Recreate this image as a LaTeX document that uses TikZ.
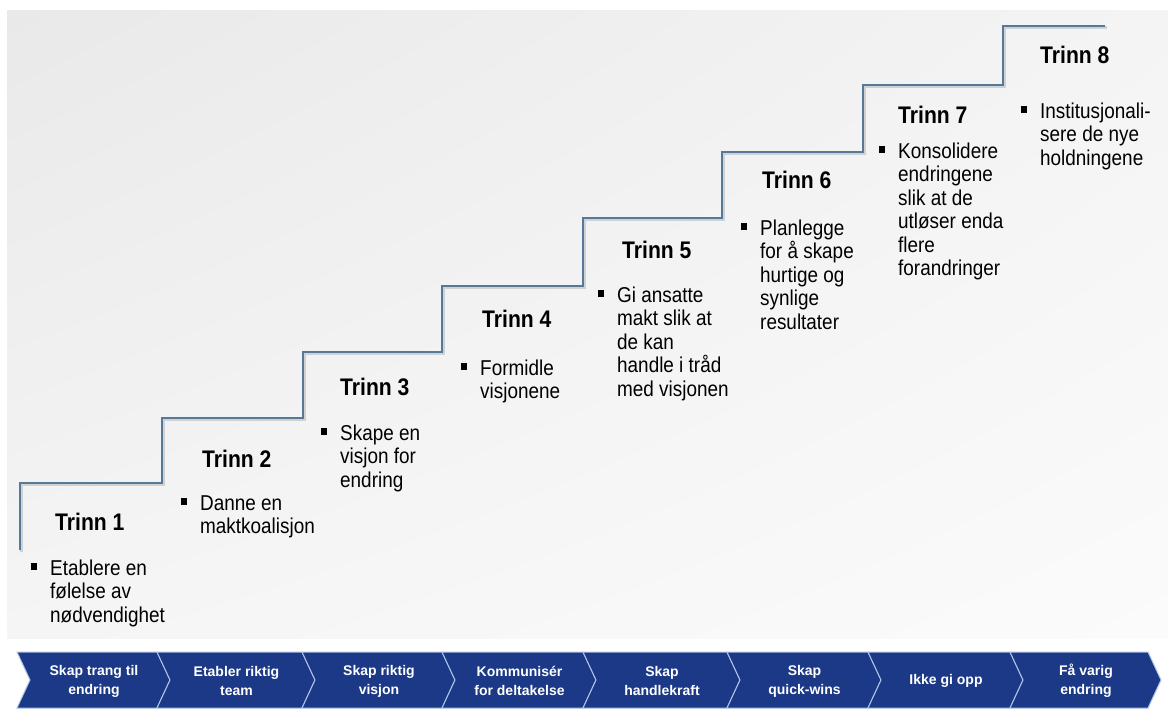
\documentclass[tikz,border=0pt]{standalone}
\usepackage{fontspec}
\setmainfont{Liberation Sans}
\newfontfamily\narrowfont{Liberation Sans}[FakeStretch=0.88]
\usetikzlibrary{calc,shadings}

\definecolor{stairline}{RGB}{88,120,152}
\definecolor{stairshadow}{RGB}{205,210,215}
\definecolor{bandblue}{RGB}{27,57,134}
\definecolor{bandedge}{RGB}{175,195,228}
\definecolor{panelUL}{RGB}{233,233,233}
\definecolor{panelUR}{RGB}{244,244,244}
\definecolor{panelLL}{RGB}{245,245,245}
\definecolor{panelLR}{RGB}{251,251,251}

\tikzset{
  heading/.style={anchor=base west, inner sep=0pt,
    font=\narrowfont\bfseries\fontsize{24}{26}\selectfont},
  bodytext/.style={anchor=base west, inner sep=0pt,
    font=\narrowfont\fontsize{21.5}{23.5}\selectfont},
  bulletsq/.style={fill=black, inner sep=0pt, minimum size=6.5pt},
  chevron/.style={fill=bandblue, draw=bandedge, line width=1pt, line join=miter},
  chevlabel/.style={text=white, align=center, inner sep=0pt,
    font=\bfseries\fontsize{14}{19}\selectfont},
  stairs/.style={draw=stairline, line width=2.2pt},
  stairsback/.style={draw=stairshadow, line width=3pt},
}

% body text: first line baseline sits on the node's base
\newcommand{\steptext}[1]{\parbox[t]{170pt}{\raggedright #1}}

\begin{document}
\begin{tikzpicture}[x=1pt, y=-1pt]
  \useasboundingbox (0,0) rectangle (1168,715);
  \fill[white] (0,0) rectangle (1168,715);

  % light grey panel behind the staircase
  \shade[upper left=panelUL, upper right=panelUR,
         lower left=panelLL, lower right=panelLR] (7,10) rectangle (1168,638);

  % staircase
  \coordinate (s0) at (20,550);
  \path[stairsback] ([shift={(1.5,1.5)}]s0) -- ++(0,-67) -- ++(142,0) -- ++(0,-65) -- ++(141,0)
     -- ++(0,-66) -- ++(139,0) -- ++(0,-66) -- ++(141,0) -- ++(0,-68) -- ++(139,0)
     -- ++(0,-66) -- ++(141,0) -- ++(0,-67) -- ++(140,0) -- ++(0,-59) -- ++(102,0);
  \path[stairs] (s0) -- ++(0,-67) -- ++(142,0) -- ++(0,-65) -- ++(141,0)
     -- ++(0,-66) -- ++(139,0) -- ++(0,-66) -- ++(141,0) -- ++(0,-68) -- ++(139,0)
     -- ++(0,-66) -- ++(141,0) -- ++(0,-67) -- ++(140,0) -- ++(0,-59) -- ++(102,0);

  % step headings
  \node[heading] (h1) at (55,530) {Trinn 1};
  \node[heading] (h2) at (202,467) {Trinn 2};
  \node[heading] (h3) at (340,395) {Trinn 3};
  \node[heading] (h4) at (482,327) {Trinn 4};
  \node[heading] (h5) at (622,258) {Trinn 5};
  \node[heading] (h6) at (762,188) {Trinn 6};
  \node[heading] (h7) at (898,123) {Trinn 7};
  \node[heading] (h8) at (1040,63) {Trinn 8};

  % step descriptions
  \node[bodytext] (t1) at (50,575) {\steptext{Etablere en\\følelse av\\nødvendighet}};
  \node[bodytext] (t2) at (200,510) {\steptext{Danne en\\maktkoalisjon}};
  \node[bodytext] (t3) at (340,440) {\steptext{Skape en\\visjon for\\endring}};
  \node[bodytext] (t4) at (480,375) {\steptext{Formidle\\visjonene}};
  \node[bodytext] (t5) at (617,302) {\steptext{Gi ansatte\\makt slik at\\de kan\\handle i tråd\\med visjonen}};
  \node[bodytext] (t6) at (760,235) {\steptext{Planlegge\\for å skape\\hurtige og\\synlige\\resultater}};
  \node[bodytext] (t7) at (898,158) {\steptext{Konsolidere\\endringene\\slik at de\\utløser enda\\flere\\forandringer}};
  \node[bodytext] (t8) at (1040,118) {\steptext{Institusjonali-\\sere de nye\\holdningene}};

  % bullets in front of the descriptions
  \foreach \i in {1,...,8}
    \node[bulletsq] (b\i) at ($(t\i.base west)+(-16,-8.5)$) {};

  % chevron band
  \foreach \l/\r/\txt [count=\i] in {
      17/157/{Skap trang til\\endring},
      157/302/{Etabler riktig\\team},
      302/442/{Skap riktig\\visjon},
      442/583/{Kommunisér\\for deltakelse},
      583/727/{Skap\\handlekraft},
      727/868/{Skap\\quick-wins},
      868/1010/{Ikke gi opp},
      1010/1148/{Få varig\\endring}} {
    \path[chevron] (\l,652) -- (\r,652) -- ({\r+13},680) -- (\r,708) -- (\l,708)
       -- ({\l+13},680) -- cycle;
    \node[chevlabel] (c\i) at ({(\l+\r)/2+7},681) {\txt};
  }
\end{tikzpicture}
\end{document}
